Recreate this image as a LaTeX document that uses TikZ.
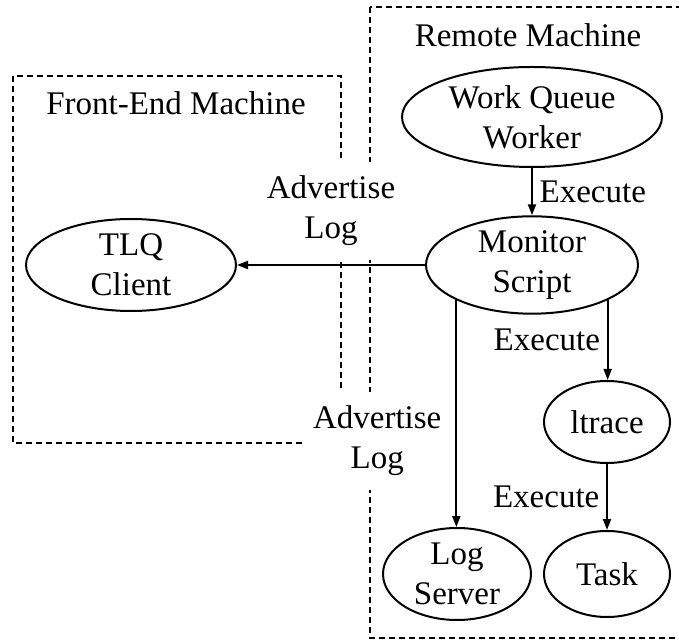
\documentclass[tikz,border=0pt]{standalone}
\usepackage{fontspec}
\setmainfont{Liberation Serif}
\usetikzlibrary{shapes.geometric}
\usetikzlibrary{arrows.meta}
\tikzset{
	procnode/.style = {ellipse, draw=black, line width=1pt, inner sep=0pt,
		align=center, font=\fontsize{16.5}{20}\selectfont},% process, ellipse
	machbox/.style = {draw=black, line width=1pt,
		dash pattern=on 3pt off 2pt},% machine, dashed frame
	machlbl/.style = {font=\fontsize{16.5}{20}\selectfont},% machine name
	edgelbl/.style = {align=center, font=\fontsize{16.5}{20}\selectfont},% edge text
	advlbl/.style = {edgelbl, fill=white, inner xsep=5pt, inner ysep=7pt}% edge text over frame
}

\begin{document}
\begin{tikzpicture}[x=0.5pt,y=-0.5pt,line width=1pt,
		>={Triangle[length=5.5pt,width=4pt]}]
	\useasboundingbox (0,0) rectangle (679,640);
	% machines
	\draw[machbox] (13,76) rectangle (341,443);
	\draw[machbox] (370,7) rectangle (720,638);
	\node[machlbl] (felbl) at (176,103) {Front-End Machine};
	\node[machlbl] (rmlbl) at (528,35) {Remote Machine};
	% processes
	\node[procnode, minimum width=130pt, minimum height=50pt] (wqw) at (532,117) {Work Queue\\Worker};
	\node[procnode, minimum width=106pt, minimum height=47pt] (mon) at (532,265) {Monitor\\Script};
	\node[procnode, minimum width=105pt, minimum height=46pt] (tlq) at (131,265) {TLQ\\Client};
	\node[procnode, minimum width=63pt, minimum height=41pt] (ltrace) at (607,422) {ltrace};
	\node[procnode, minimum width=74pt, minimum height=46pt] (logsrv) at (457,574) {Log\\Server};
	\node[procnode, minimum width=63pt, minimum height=43pt] (task) at (607,574) {Task};
	% edges
	\draw[->] (wqw) -- node[edgelbl, right] {Execute} (mon);
	\draw[->] (mon) -- node[advlbl, above=2pt] {Advertise\\Log} (tlq);
	\draw[->] (mon.south west) -- node[advlbl, left=2pt, pos=0.62] {Advertise\\Log} (mon.south west |- logsrv.north);
	\draw[->] (mon.south east) -- node[edgelbl, left] {Execute} (mon.south east |- ltrace.north);
	\draw[->] (ltrace) -- node[edgelbl, left] {Execute} (task);
\end{tikzpicture}
\end{document}
